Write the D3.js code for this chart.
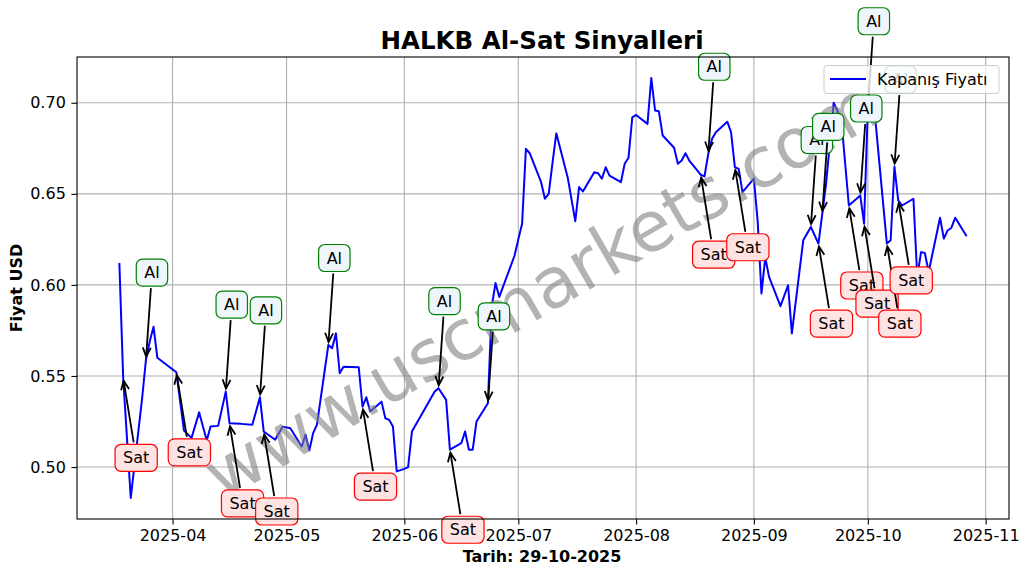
<!DOCTYPE html>
<html>
<head>
<meta charset="utf-8">
<script src="https://cdn.jsdelivr.net/npm/d3@7"></script>
<style>
  html, body { margin: 0; padding: 0; background: #fff; }
  svg { display: block; font-family: "DejaVu Sans", sans-serif; }
</style>
</head>
<body>
<svg id="chart" width="1029" height="574"></svg>
<script>
// ---------------- DATA ----------------
const dates = [
  "2025-03-18","2025-03-19","2025-03-20","2025-03-21","2025-03-24","2025-03-25","2025-03-26","2025-03-27","2025-03-28",
  "2025-04-02","2025-04-03","2025-04-04","2025-04-06","2025-04-08","2025-04-10","2025-04-11","2025-04-13","2025-04-15",
  "2025-04-16","2025-04-19","2025-04-22","2025-04-24","2025-04-25","2025-04-28","2025-04-30",
  "2025-05-02","2025-05-05","2025-05-06","2025-05-07","2025-05-08","2025-05-09","2025-05-12","2025-05-13","2025-05-14",
  "2025-05-15","2025-05-16","2025-05-20","2025-05-21","2025-05-22","2025-05-23","2025-05-26","2025-05-27","2025-05-28",
  "2025-05-29","2025-05-30",
  "2025-06-01","2025-06-02","2025-06-03","2025-06-09","2025-06-10","2025-06-12","2025-06-13","2025-06-16","2025-06-17",
  "2025-06-18","2025-06-19","2025-06-20","2025-06-23","2025-06-24","2025-06-25","2025-06-26","2025-06-30",
  "2025-07-01","2025-07-02","2025-07-03","2025-07-04","2025-07-07","2025-07-08","2025-07-09","2025-07-10","2025-07-11",
  "2025-07-14","2025-07-16","2025-07-17","2025-07-18","2025-07-21","2025-07-22","2025-07-23","2025-07-24","2025-07-25",
  "2025-07-28","2025-07-29","2025-07-30","2025-07-31",
  "2025-08-01","2025-08-04","2025-08-05","2025-08-06","2025-08-07","2025-08-08","2025-08-11","2025-08-12","2025-08-13",
  "2025-08-14","2025-08-15","2025-08-18","2025-08-19","2025-08-20","2025-08-21","2025-08-22","2025-08-25","2025-08-26",
  "2025-08-27","2025-08-28","2025-08-29",
  "2025-09-01","2025-09-02","2025-09-03","2025-09-04","2025-09-05","2025-09-08","2025-09-10","2025-09-11","2025-09-14",
  "2025-09-16","2025-09-18","2025-09-19","2025-09-20","2025-09-22","2025-09-24","2025-09-26","2025-09-29","2025-09-30",
  "2025-10-01","2025-10-03","2025-10-06","2025-10-07","2025-10-08","2025-10-09","2025-10-10","2025-10-13","2025-10-14",
  "2025-10-15","2025-10-16","2025-10-17","2025-10-20","2025-10-21","2025-10-22","2025-10-23","2025-10-24","2025-10-27"
];
const closes = [
  0.612,0.549,0.516,0.483,0.538,0.559,0.569,0.577,0.560,
  0.552,0.536,0.520,0.516,0.530,0.5146,0.5222,0.5226,0.5414,
  0.524,0.5237,0.5232,0.5383,0.5195,0.515,0.5222,
  0.5213,0.5113,0.5177,0.5091,0.5186,0.5232,0.567,0.5652,0.5734,
  0.5515,0.5551,0.5548,0.5332,0.5383,0.5305,0.5359,0.5268,0.5259,
  0.5222,0.4976,
  0.4990,0.5000,0.5195,0.5415,0.5433,0.5369,0.5095,0.5131,0.5195,
  0.5095,0.5095,0.525,0.535,0.588,0.601,0.5934,0.616,
  0.625,0.6336,0.6747,0.6723,0.6564,0.6473,0.650,0.667,0.6832,
  0.659,0.635,0.6537,0.6513,0.6619,0.6613,0.6583,0.6646,0.660,
  0.6564,0.6665,0.6698,0.692,
  0.6933,0.6884,0.7136,0.6957,0.6953,0.682,0.6753,0.6665,0.6683,
  0.6723,0.6683,0.6605,0.6596,0.672,0.6802,0.6838,0.6896,0.6838,
  0.6646,0.6637,0.6509,
  0.6583,0.635,0.5953,0.615,0.6044,0.5883,0.5998,0.5734,0.6245,
  0.6318,0.6227,0.639,0.6555,0.700,0.6911,0.6436,0.6491,0.6336,
  0.697,0.6902,0.6227,0.6245,0.665,0.6464,0.6436,0.6473,0.6044,
  0.618,0.6175,0.6071,0.6369,0.6254,0.6299,0.6314,0.6369,0.6267
];
const buyDates = ["2025-03-25","2025-04-15","2025-04-24","2025-05-12","2025-06-10","2025-06-23",
  "2025-08-20","2025-09-16","2025-09-19","2025-10-01","2025-09-29","2025-10-08"];
const sellDates = ["2025-03-19","2025-04-02","2025-04-16","2025-04-25","2025-05-21","2025-06-13",
  "2025-08-18","2025-08-27","2025-09-18","2025-09-26","2025-09-30","2025-10-06","2025-10-09"];
const yTicks = [0.50, 0.55, 0.60, 0.65, 0.70];
const xTickLabels = ["2025-04","2025-05","2025-06","2025-07","2025-08","2025-09","2025-10","2025-11"];
const titleText = "HALKB Al-Sat Sinyalleri";
const xLabelText = "Tarih: 29-10-2025";
const yLabelText = "Fiyat USD";
const legendText = "Kapanış Fiyatı";
const buyLabel = "Al", sellLabel = "Sat";
const watermark = "www.uscmarkets.com";

// ---------------- CHART ----------------
const parse = d3.timeParse("%Y-%m-%d");
const series = dates.map((d, i) => ({ date: parse(d), value: closes[i] }));
const byDate = new Map(dates.map((d, i) => [d, series[i]]));

const svg = d3.select("#chart");
const L = 77, R = 1009, T = 57, B = 519;
const FS = 16;

const xExt = d3.extent(series, d => d.date);
const xPad = (xExt[1] - xExt[0]) * 0.05;
const x = d3.scaleTime()
  .domain([new Date(+xExt[0] - xPad), new Date(+xExt[1] + xPad)])
  .range([L, R]);
const yExt = d3.extent(series, d => d.value);
const yPad = (yExt[1] - yExt[0]) * 0.05;
const y = d3.scaleLinear().domain([yExt[0] - yPad, yExt[1] + yPad]).range([B, T]);

const xTickDates = xTickLabels.map(s => d3.timeParse("%Y-%m")(s));

// grid
const grid = svg.append("g");
grid.selectAll("line.vx").data(xTickDates).join("line")
  .attr("x1", d => x(d)).attr("x2", d => x(d)).attr("y1", T).attr("y2", B)
  .attr("stroke", "#b0b0b0").attr("stroke-width", 1.1);
grid.selectAll("line.hy").data(yTicks).join("line")
  .attr("x1", L).attr("x2", R).attr("y1", d => y(d)).attr("y2", d => y(d))
  .attr("stroke", "#b0b0b0").attr("stroke-width", 1.1);

// axes
const xAxis = d3.axisBottom(x).tickValues(xTickDates).tickFormat(d3.timeFormat("%Y-%m"))
  .tickSizeInner(5.6).tickSizeOuter(0).tickPadding(5);
const gx = svg.append("g").attr("transform", `translate(0,${B})`).call(xAxis);
const yAxis = d3.axisLeft(y).tickValues(yTicks).tickFormat(d3.format(".2f"))
  .tickSizeInner(5.6).tickSizeOuter(0).tickPadding(5.6);
const gy = svg.append("g").attr("transform", `translate(${L},0)`).call(yAxis);
[gx, gy].forEach(g => {
  g.select(".domain").remove();
  g.selectAll("text").attr("font-size", FS + "px").attr("fill", "#000")
    .attr("font-family", "DejaVu Sans, sans-serif");
  g.selectAll("line").attr("stroke", "#000").attr("stroke-width", 1.1);
});

// line
svg.append("path").datum(series)
  .attr("fill", "none").attr("stroke", "#0000ff").attr("stroke-width", 2)
  .attr("stroke-linejoin", "round")
  .attr("d", d3.line().x(d => x(d.date)).y(d => y(d.value)));

// watermark
svg.append("text")
  .attr("transform", `translate(${(L + R) / 2 - 2},${(T + B) / 2 + 2}) rotate(-30)`)
  .attr("text-anchor", "middle").attr("dominant-baseline", "central")
  .attr("font-size", "70px").attr("fill", "#808080").attr("fill-opacity", 0.6)
  .text(watermark);

// annotations
function annotate(list, label, dx, dy, edge, fill) {
  const bh = 27, r = 6;
  list.forEach(ds => {
    const p = byDate.get(ds);
    const px = x(p.date), py = y(p.value);
    const cx = px + dx, cy = py + dy;
    const g = svg.append("g");
    const t = g.append("text").attr("x", cx).attr("y", cy).attr("text-anchor", "middle")
      .attr("dominant-baseline", "central").attr("font-size", FS + "px").attr("fill", "#000")
      .text(label);
    const bw = t.node().getComputedTextLength() + 16;
    // arrow from box edge to point
    const vx = px - cx, vy = py - cy;
    const len = Math.hypot(vx, vy);
    const ux = vx / len, uy = vy / len;
    const tEdge = Math.min(Math.abs((bh / 2) / uy), Math.abs((bw / 2) / (ux || 1e-9)));
    const sx = cx + ux * (tEdge + 2), sy = cy + uy * (tEdge + 2);
    const ex = px - ux * 3, ey = py - uy * 3;
    g.insert("line", "text").attr("x1", sx).attr("y1", sy).attr("x2", ex).attr("y2", ey)
      .attr("stroke", "#000").attr("stroke-width", 1.8);
    const hl = 9, hw = 4;
    const bx = ex - ux * hl, by = ey - uy * hl;
    g.insert("path", "text")
      .attr("d", `M${bx - uy * hw},${by + ux * hw} L${ex},${ey} L${bx + uy * hw},${by - ux * hw}`)
      .attr("fill", "none").attr("stroke", "#000").attr("stroke-width", 1.8);
    g.insert("rect", "text").attr("x", cx - bw / 2).attr("y", cy - bh / 2)
      .attr("width", bw).attr("height", bh).attr("rx", r).attr("ry", r)
      .attr("fill", fill).attr("stroke", edge).attr("stroke-width", 1.2);
  });
}
annotate(sellDates, sellLabel, 13, 80, "#ff0000", "#ffe2e2");
annotate(buyDates, buyLabel, 6, -87, "#008000", "#eef6fc");

// spines
svg.append("rect").attr("x", L).attr("y", T).attr("width", R - L).attr("height", B - T)
  .attr("fill", "none").attr("stroke", "#000").attr("stroke-width", 1.1);

// legend
const lg = svg.append("g");
lg.append("rect").attr("x", 824).attr("y", 65.5).attr("width", 175).attr("height", 28).attr("rx", 3)
  .attr("fill", "#fff").attr("fill-opacity", 0.8).attr("stroke", "#cccccc").attr("stroke-width", 1);
lg.append("line").attr("x1", 830).attr("x2", 866).attr("y1", 79).attr("y2", 79)
  .attr("stroke", "#0000ff").attr("stroke-width", 2);
lg.append("text").attr("x", 877).attr("y", 79).attr("dominant-baseline", "central")
  .attr("font-size", FS + "px").text(legendText);

// title & labels
svg.append("text").attr("x", (L + R) / 2 - 1).attr("y", 49).attr("text-anchor", "middle")
  .attr("font-size", "24.5px").attr("font-weight", "bold").text(titleText);
svg.append("text").attr("x", (L + R) / 2 - 1).attr("y", 562).attr("text-anchor", "middle")
  .attr("font-size", FS + "px").attr("font-weight", "bold").text(xLabelText);
svg.append("text").attr("transform", `translate(22,${(T + B) / 2}) rotate(-90)`)
  .attr("text-anchor", "middle").attr("font-size", FS + "px").attr("font-weight", "bold").text(yLabelText);
</script>
</body>
</html>
